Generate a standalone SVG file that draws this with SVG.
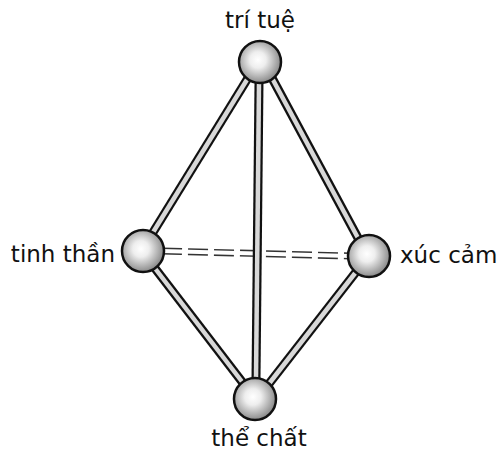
<svg xmlns="http://www.w3.org/2000/svg" width="499" height="452" viewBox="0 0 499 452">
<style>
.lbl{font-family:"DejaVu Sans",Verdana,sans-serif;font-size:23px;fill:#111}
.outer{stroke:#111;stroke-width:9;fill:none}
.inner{stroke:#d8d8d8;stroke-width:4.5;fill:none}
.douter{stroke:#333;stroke-width:7;fill:none;stroke-dasharray:20 6}
.dinner{stroke:#fff;stroke-width:4;fill:none}
.node{fill:url(#g);stroke:#111;stroke-width:2.5}
</style>
<defs>
<radialGradient id="g" cx="0.45" cy="0.45" r="0.55">
<stop offset="0" stop-color="#fff"/>
<stop offset="0.35" stop-color="#eee"/>
<stop offset="1" stop-color="#8a8a8a"/>
</radialGradient>
</defs>
<rect width="499" height="452" fill="#fff"/>
<g id="connectors">
<line class="douter" x1="162" y1="251" x2="350" y2="256"/>
<line class="dinner" x1="162" y1="251" x2="350" y2="256"/>
<line class="outer" x1="248" y1="78" x2="152" y2="234"/>
<line class="inner" x1="248" y1="78" x2="152" y2="234"/>
<line class="outer" x1="272" y1="78" x2="358" y2="238"/>
<line class="inner" x1="272" y1="78" x2="358" y2="238"/>
<line class="outer" x1="259" y1="82" x2="256" y2="378"/>
<line class="inner" x1="259" y1="82" x2="256" y2="378"/>
<line class="outer" x1="154" y1="267" x2="243" y2="383"/>
<line class="inner" x1="154" y1="267" x2="243" y2="383"/>
<line class="outer" x1="356" y1="272" x2="268" y2="385"/>
<line class="inner" x1="356" y1="272" x2="268" y2="385"/>
</g>
<g id="n-tritue">
<circle class="node" cx="260" cy="62" r="21"/>
<text class="lbl" x="260" y="28" text-anchor="middle">trí tuệ</text>
</g>
<g id="n-tinhthan">
<circle class="node" cx="143" cy="251" r="21"/>
<text class="lbl" x="115" y="262" text-anchor="end">tinh thần</text>
</g>
<g id="n-xuccam">
<circle class="node" cx="369" cy="256" r="21"/>
<text class="lbl" x="400" y="263">xúc cảm</text>
</g>
<g id="n-thechat">
<circle class="node" cx="255" cy="399" r="21"/>
<text class="lbl" x="259" y="446" text-anchor="middle">thể chất</text>
</g>
</svg>
